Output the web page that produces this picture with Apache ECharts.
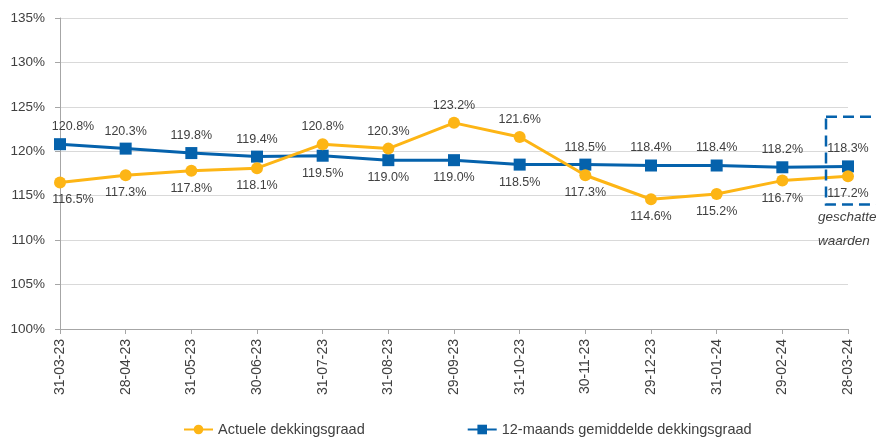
<!DOCTYPE html>
<html>
<head>
<meta charset="utf-8">
<script src="https://cdn.jsdelivr.net/npm/echarts@6/dist/echarts.min.js"></script>
<style>
    html, body { margin: 0; padding: 0; background: #fff; }
    #chart { width: 876px; height: 438px; }
</style>
</head>
<body>
<div id="chart"></div>
<script>
const dates = ['31-03-23', '28-04-23', '31-05-23', '30-06-23', '31-07-23', '31-08-23', '29-09-23',
    '31-10-23', '30-11-23', '29-12-23', '31-01-24', '29-02-24', '28-03-24'];
const actueel = [116.5, 117.3, 117.8, 118.1, 120.8, 120.3, 123.2, 121.6, 117.3, 114.6, 115.2, 116.7, 117.2];
const gemiddeld = [120.8, 120.3, 119.8, 119.4, 119.5, 119.0, 119.0, 118.5, 118.5, 118.4, 118.4, 118.2, 118.3];
// label above (true) or below (false)
const actueelAbove = [false, false, false, false, true, true, true, true, false, false, false, false, false];
const gemiddeldAbove = [true, true, true, true, false, false, false, false, true, true, true, true, true];

const fontFam = '"Liberation Sans", Arial, sans-serif';
const textCol = '#404040';
const orange = '#FDB515';
const blue = '#0562AC';

function buildData(values, above) {
    return values.map((v, i) => ({
        value: v,
        label: {
            position: above[i] ? 'top' : 'bottom',
            distance: 5,
            offset: i === 0 ? [13, 0] : [0, 0]
        }
    }));
}

let myChart = echarts.init(document.getElementById('chart'));
let labelStyle = {
    show: true,
    formatter: p => p.value.toFixed(1) + '%',
    color: textCol,
    fontSize: 12.5,
    fontFamily: fontFam
};
let option = {
    animation: false,
    grid: {
        left: 60,
        right: 28,
        top: 18,
        bottom: 109
    },
    legend: {
        top: 417,
        left: 178,
        itemGap: 102,
        itemWidth: 29,
        itemHeight: 12,
        textStyle: {
            color: textCol,
            fontSize: 14.5,
            fontFamily: fontFam
        },
        data: ['Actuele dekkingsgraad', '12-maands gemiddelde dekkingsgraad']
    },
    xAxis: {
        type: 'category',
        boundaryGap: false,
        data: dates,
        axisLine: { lineStyle: { color: '#A6A6A6', width: 1 } },
        axisTick: { show: true, length: 5, lineStyle: { color: '#A6A6A6' } },
        axisLabel: {
            rotate: 90,
            color: textCol,
            fontSize: 14,
            fontFamily: fontFam,
            margin: 10
        }
    },
    yAxis: {
        type: 'value',
        min: 100,
        max: 135,
        interval: 5,
        axisLine: { show: true, lineStyle: { color: '#A6A6A6' } },
        axisTick: { show: true, length: 5, lineStyle: { color: '#A6A6A6' } },
        splitLine: { lineStyle: { color: '#D9D9D9' } },
        axisLabel: {
            formatter: '{value}%',
            color: textCol,
            fontSize: 13.5,
            fontFamily: fontFam,
            margin: 15
        }
    },
    series: [
        {
            name: 'Actuele dekkingsgraad',
            type: 'line',
            data: buildData(actueel, actueelAbove),
            symbol: 'circle',
            symbolSize: 12,
            z: 3,
            itemStyle: { color: orange },
            lineStyle: { color: orange, width: 3 },
            label: labelStyle
        },
        {
            name: '12-maands gemiddelde dekkingsgraad',
            type: 'line',
            data: buildData(gemiddeld, gemiddeldAbove),
            symbol: 'rect',
            symbolSize: 12,
            z: 2,
            itemStyle: { color: blue },
            lineStyle: { color: blue, width: 3 },
            label: labelStyle
        }
    ]
};
myChart.setOption(option);

// dashed box marking the estimated values
let last = dates.length - 1;
let topLeft = myChart.convertToPixel({ gridIndex: 0 }, [last, 123.9]);
let bottomLeft = myChart.convertToPixel({ gridIndex: 0 }, [last, 114]);
let bx = topLeft[0] - 22;
myChart.setOption({
    graphic: [
        {
            type: 'rect',
            shape: { x: bx, y: topLeft[1], width: 80, height: bottomLeft[1] - topLeft[1] },
            style: { fill: 'none', stroke: blue, lineWidth: 2.5, lineDash: [11, 6] },
            z: 10
        },
        {
            type: 'text',
            x: bx - 8,
            y: bottomLeft[1] + 1,
            style: {
                text: 'geschatte\nwaarden',
                fill: textCol,
                font: 'italic 13.5px ' + fontFam,
                lineHeight: 24,
                align: 'left'
            },
            z: 10
        }
    ]
});
</script>
</body>
</html>
